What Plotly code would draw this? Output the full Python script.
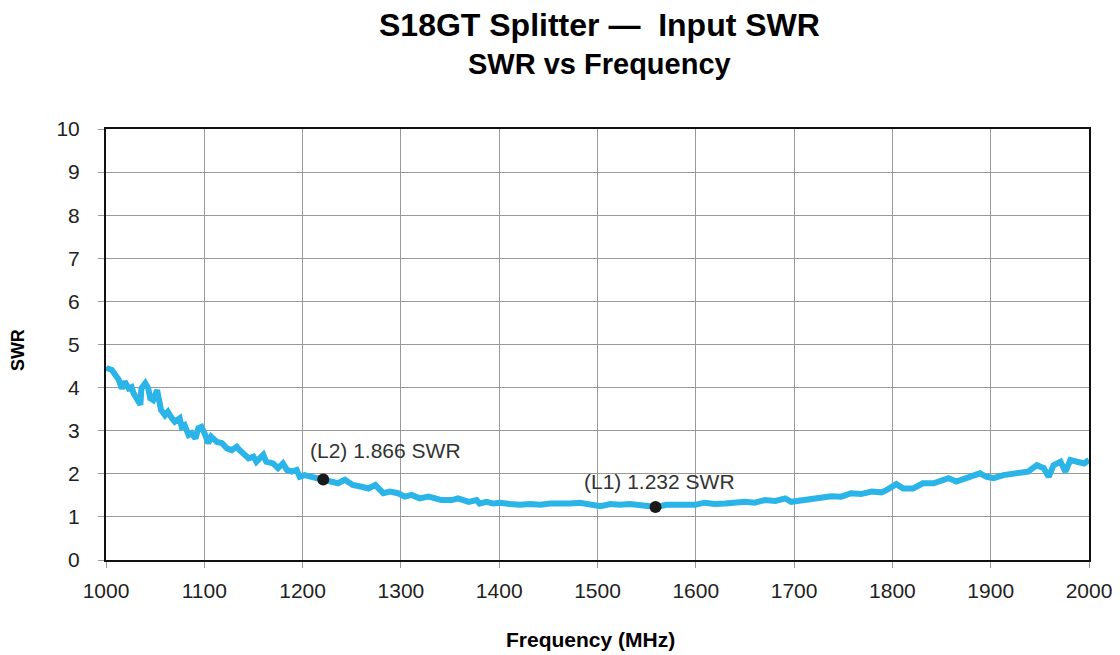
import plotly.graph_objects as go

freq_mhz = [1000, 1001, 1006, 1009, 1013, 1016, 1019, 1023, 1026, 1028, 1031, 1035, 1036, 1040, 1043,
            1045, 1048, 1052, 1054, 1056, 1060, 1063, 1067, 1070, 1075, 1077, 1080, 1084, 1087, 1091,
            1094, 1097, 1101, 1104, 1107, 1113, 1118, 1123, 1128, 1133, 1136, 1140, 1145, 1150, 1153,
            1160, 1163, 1170, 1175, 1180, 1184, 1189, 1194, 1197, 1202, 1209, 1215, 1221, 1230, 1236,
            1243, 1251, 1260, 1267, 1274, 1282, 1289, 1297, 1304, 1311, 1319, 1328, 1335, 1341, 1352,
            1358, 1369, 1377, 1380, 1387, 1394, 1401, 1411, 1421, 1431, 1442, 1452, 1462, 1472, 1482,
            1492, 1503, 1513, 1523, 1533, 1543, 1553, 1560, 1570, 1580, 1591, 1599, 1609, 1619, 1630,
            1640, 1650, 1660, 1670, 1681, 1691, 1697, 1708, 1718, 1728, 1738, 1748, 1758, 1768, 1779,
            1789, 1794, 1804, 1811, 1821, 1831, 1842, 1850, 1857, 1865, 1875, 1882, 1889, 1896, 1903,
            1913, 1923, 1930, 1938, 1947, 1954, 1959, 1964, 1971, 1976, 1981, 1988, 1995, 2000]
swr = [4.47, 4.45, 4.41, 4.33, 4.18, 3.98, 4.14, 3.98, 4.01, 3.87, 3.75, 3.60, 3.98, 4.10, 3.98,
       3.75, 3.71, 3.94, 3.71, 3.48, 3.36, 3.44, 3.29, 3.21, 3.29, 3.09, 3.13, 2.90, 2.94, 2.82,
       3.06, 3.09, 2.90, 2.71, 2.86, 2.74, 2.71, 2.59, 2.55, 2.63, 2.55, 2.48, 2.36, 2.40, 2.28,
       2.44, 2.28, 2.24, 2.13, 2.24, 2.09, 2.05, 2.09, 1.93, 1.97, 1.93, 1.90, 1.87, 1.82, 1.78,
       1.86, 1.74, 1.70, 1.66, 1.74, 1.55, 1.59, 1.55, 1.47, 1.51, 1.43, 1.47, 1.43, 1.39, 1.39,
       1.43, 1.35, 1.39, 1.31, 1.35, 1.31, 1.33, 1.30, 1.28, 1.30, 1.28, 1.31, 1.30, 1.31, 1.33,
       1.30, 1.25, 1.30, 1.28, 1.30, 1.28, 1.25, 1.23, 1.28, 1.28, 1.30, 1.28, 1.33, 1.30, 1.31,
       1.33, 1.35, 1.33, 1.39, 1.37, 1.43, 1.35, 1.39, 1.40, 1.43, 1.48, 1.47, 1.55, 1.53, 1.59,
       1.57, 1.62, 1.76, 1.66, 1.66, 1.78, 1.78, 1.86, 1.90, 1.82, 1.90, 1.93, 2.01, 1.93, 1.90,
       1.97, 2.01, 2.05, 2.05, 2.20, 2.13, 1.93, 2.20, 2.28, 2.05, 2.32, 2.28, 2.24, 2.32]

marker_labels = ["(L1) 1.232 SWR", "(L2) 1.866 SWR"]
marker_freq = [1559, 1221]
marker_swr = [1.232, 1.866]

x_ticks = [1000, 1100, 1200, 1300, 1400, 1500, 1600, 1700, 1800, 1900, 2000]
y_ticks = [0, 1, 2, 3, 4, 5, 6, 7, 8, 9, 10]

FONT = "Liberation Sans, Arial, sans-serif"

fig = go.Figure()
fig.add_trace(go.Scatter(
    x=freq_mhz, y=swr, mode="lines",
    line=dict(color="#2AB4E8", width=6),
    showlegend=False, hoverinfo="x+y",
))
fig.add_trace(go.Scatter(
    x=marker_freq, y=marker_swr, mode="markers",
    marker=dict(color="#1a1a1a", size=12),
    showlegend=False,
))

label_offsets = [(-75, 1.81), (-16, 2.53)]
for lab, fx, (dx, ly) in zip(marker_labels, marker_freq, label_offsets):
    fig.add_annotation(x=fx + dx, y=ly, xref="x", yref="y", text=lab, showarrow=False,
                       xanchor="left", yanchor="middle",
                       font=dict(family=FONT, size=21, color="#333333"))

fig.add_annotation(x=0.5025, y=1.241, xref="paper", yref="paper",
                   text="<b>S18GT Splitter —&nbsp; Input SWR</b>", showarrow=False,
                   xanchor="center", yanchor="middle",
                   font=dict(family=FONT, size=32, color="#000000"))
fig.add_annotation(x=0.5025, y=1.151, xref="paper", yref="paper",
                   text="<b>SWR vs Frequency</b>", showarrow=False,
                   xanchor="center", yanchor="middle",
                   font=dict(family=FONT, size=29, color="#000000"))
fig.add_annotation(x=0.4924, y=-0.1856, xref="paper", yref="paper",
                   text="<b>Frequency (MHz)</b>", showarrow=False,
                   xanchor="center", yanchor="middle",
                   font=dict(family=FONT, size=21, color="#000000"))
fig.add_annotation(x=-0.0895, y=0.487, xref="paper", yref="paper",
                   text="<b>SWR</b>", showarrow=False, textangle=-90,
                   xanchor="center", yanchor="middle",
                   font=dict(family=FONT, size=18, color="#000000"))

fig.update_layout(
    width=1120, height=655,
    margin=dict(l=98, r=39, t=121, b=103),
    paper_bgcolor="white", plot_bgcolor="white",
    font=dict(family=FONT, color="#222222"),
)
fig.update_xaxes(
    range=[1000, 2000], tickvals=x_ticks, ticktext=[str(v) for v in x_ticks],
    showgrid=True, gridcolor="#9a9a9a", gridwidth=1,
    showline=True, linecolor="#111111", linewidth=2, mirror=True,
    ticks="outside", ticklen=6, tickcolor="#9a9a9a",
    tickfont=dict(family=FONT, size=21, color="#222222"),
    ticklabelstandoff=5,
    zeroline=False,
)
fig.update_yaxes(
    range=[0, 10], tickvals=y_ticks, ticktext=[str(v) for v in y_ticks],
    showgrid=True, gridcolor="#9a9a9a", gridwidth=1,
    showline=True, linecolor="#111111", linewidth=2, mirror=True,
    ticks="outside", ticklen=6, tickcolor="#9a9a9a",
    tickfont=dict(family=FONT, size=21, color="#222222"),
    ticklabelstandoff=14,
    zeroline=False,
)

fig.write_html("out.html")
